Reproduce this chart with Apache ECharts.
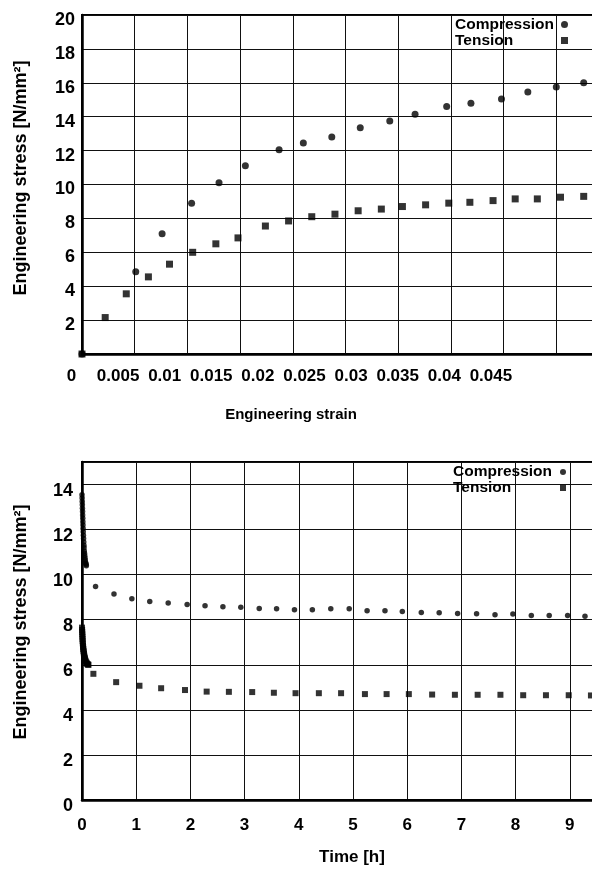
<!DOCTYPE html>
<html>
<head>
<meta charset="utf-8">
<script src="https://cdn.jsdelivr.net/npm/echarts@6/dist/echarts.min.js"></script>
<style>
  html, body { margin: 0; padding: 0; background: #fff; overflow: hidden; width: 592px; height: 871px; }
  #chart { width: 640px; height: 871px; }
</style>
</head>
<body>
<div id="chart"></div>
<script>
// Stress-strain curves (upper panel)
const strainCompression = [0, 0.0051, 0.0076, 0.0104, 0.013, 0.0155, 0.0187, 0.0210, 0.0237, 0.0264, 0.0292, 0.0316, 0.0346, 0.0369, 0.0398, 0.0423, 0.0450, 0.0476];
const stressCompression = [0, 4.85, 7.1, 8.9, 10.1, 11.1, 12.05, 12.45, 12.8, 13.35, 13.75, 14.15, 14.6, 14.8, 15.05, 15.45, 15.75, 16.0];
const strainTension = [0, 0.0022, 0.0042, 0.0063, 0.0083, 0.0105, 0.0127, 0.0148, 0.0174, 0.0196, 0.0218, 0.0240, 0.0262, 0.0284, 0.0304, 0.0326, 0.0348, 0.0368, 0.0390, 0.0411, 0.0432, 0.0454, 0.0476];
const stressTension = [0, 2.15, 3.55, 4.55, 5.3, 6.0, 6.5, 6.85, 7.55, 7.85, 8.1, 8.25, 8.45, 8.55, 8.7, 8.8, 8.9, 8.95, 9.05, 9.15, 9.15, 9.25, 9.3];

// Stress relaxation over time (lower panel); the first minutes are sampled densely
const timeCompression = [0, 0.002, 0.004, 0.006, 0.008, 0.01, 0.012, 0.014, 0.016, 0.018, 0.02, 0.023, 0.026, 0.029,
  0.032, 0.035, 0.038, 0.042, 0.046, 0.05, 0.055, 0.06, 0.065, 0.07, 0.075, 0.08,
  0.25, 0.59, 0.92, 1.25, 1.59, 1.94, 2.27, 2.6, 2.93, 3.27, 3.59, 3.92, 4.25, 4.59, 4.93, 5.26, 5.59, 5.91,
  6.26, 6.59, 6.93, 7.28, 7.62, 7.95, 8.29, 8.62, 8.96, 9.28];
const relaxCompression = [13.55, 13.4, 13.25, 13.1, 12.95, 12.8, 12.65, 12.5, 12.35, 12.2, 12.05, 11.9, 11.75, 11.6,
  11.45, 11.3, 11.2, 11.05, 10.95, 10.85, 10.75, 10.65, 10.55, 10.5, 10.45, 10.4,
  9.48, 9.14, 8.93, 8.81, 8.74, 8.68, 8.62, 8.58, 8.55, 8.5, 8.49, 8.44, 8.44, 8.49, 8.49, 8.4, 8.4, 8.36,
  8.32, 8.31, 8.28, 8.27, 8.22, 8.25, 8.19, 8.19, 8.19, 8.15];
const timeTension = [0, 0.002, 0.004, 0.006, 0.008, 0.01, 0.012, 0.015, 0.018, 0.021, 0.024, 0.028, 0.032,
  0.036, 0.04, 0.045, 0.05, 0.055, 0.06, 0.07, 0.08, 0.09, 0.1, 0.11, 0.12,
  0.21, 0.63, 1.06, 1.46, 1.9, 2.3, 2.71, 3.14, 3.54, 3.94, 4.37, 4.78, 5.22, 5.62, 6.03, 6.46, 6.88,
  7.3, 7.72, 8.14, 8.56, 8.98, 9.39];
const relaxTension = [7.65, 7.55, 7.45, 7.35, 7.25, 7.15, 7.05, 6.95, 6.85, 6.78, 6.7, 6.62, 6.55,
  6.48, 6.42, 6.36, 6.3, 6.25, 6.2, 6.15, 6.1, 6.06, 6.03, 6.01, 6.0,
  5.6, 5.23, 5.07, 4.96, 4.88, 4.81, 4.8, 4.79, 4.76, 4.74, 4.74, 4.74, 4.7, 4.7, 4.7, 4.68, 4.67,
  4.67, 4.67, 4.65, 4.65, 4.65, 4.64];

const seriesNames = ['Compression', 'Tension'];
const strainRange = [0, 0.05], strainStep = 0.005;
const stressRange = [0, 20], stressStep = 2;
const timeRange = [0, 10], timeStep = 1;
const relaxRange = [0, 15], relaxStep = 2;

const pairs = (xs, ys) => xs.map((x, i) => [x, ys[i]]);

const FONT = '"Liberation Sans", Arial, Helvetica, sans-serif';
const INK = '#000';
const gridLine = { show: true, lineStyle: { color: '#111', width: 1 } };
const frameLine = { show: true, onZero: false, lineStyle: { color: INK, width: 2.5 } };
const tickFont = size => ({ fontSize: size, fontWeight: 'bold', color: INK, fontFamily: FONT });

// Legend entries keep their text left-aligned in a fixed-width box so the markers line up
const legendBlock = (left, top, lineHeight, boxWidth, marker) => ({
  orient: 'vertical', left, top, align: 'right', padding: 0,
  itemWidth: marker, itemHeight: marker, itemGap: 0, selectedMode: false,
  formatter: name => '{t|' + name + '}',
  textStyle: { color: INK, fontFamily: FONT,
    rich: { t: { width: boxWidth, align: 'left', fontSize: 15.5, fontWeight: 'bold', lineHeight, color: INK, fontFamily: FONT } } },
  data: [{ name: seriesNames[0], icon: 'circle' }, { name: seriesNames[1], icon: 'rect' }]
});

const chart = echarts.init(document.getElementById('chart'), null, { renderer: 'canvas' });

chart.setOption({
  animation: false,
  backgroundColor: '#fff',
  textStyle: { fontFamily: FONT, color: INK },
  grid: [
    { left: 82, right: 31, top: 15, bottom: 517, show: true, borderColor: INK, borderWidth: 2, backgroundColor: 'transparent' },
    { left: 71.5, right: 102.5, top: 15, bottom: 517, show: false },
    { left: 82, right: 16, top: 462, bottom: 71, show: true, borderColor: INK, borderWidth: 2, backgroundColor: 'transparent' }
  ],
  xAxis: [
    { gridIndex: 0, type: 'value', min: strainRange[0], max: strainRange[1], interval: strainStep,
      axisLine: frameLine, axisTick: { show: false }, axisLabel: { show: false }, splitLine: gridLine },
    { gridIndex: 1, type: 'value', min: strainRange[0], max: strainRange[1], interval: strainStep,
      axisLine: { show: false }, axisTick: { show: false }, splitLine: { show: false },
      axisLabel: Object.assign({ margin: 14,
        formatter: v => (v >= strainRange[1] - 1e-9 ? '' : String(v)) }, tickFont(17)) },
    { gridIndex: 2, type: 'value', min: timeRange[0], max: timeRange[1], interval: timeStep,
      axisLine: frameLine, axisTick: { show: false }, splitLine: gridLine,
      axisLabel: Object.assign({ margin: 17,
        formatter: v => (v >= timeRange[1] ? '' : String(v)) }, tickFont(17)) }
  ],
  yAxis: [
    { gridIndex: 0, type: 'value', min: stressRange[0], max: stressRange[1], interval: stressStep,
      axisLine: frameLine, axisTick: { show: false }, splitLine: gridLine,
      axisLabel: Object.assign({ margin: 7, verticalAlign: 'top', lineHeight: 10,
        formatter: v => (v === 0 ? '' : String(v)) }, tickFont(18)) },
    { gridIndex: 1, type: 'value', min: stressRange[0], max: stressRange[1], show: false },
    { gridIndex: 2, type: 'value', min: relaxRange[0], max: relaxRange[1], interval: relaxStep,
      axisLine: frameLine, axisTick: { show: false }, splitLine: gridLine,
      axisLabel: Object.assign({ margin: 9, verticalAlign: 'top', lineHeight: 13,
        formatter: v => (v > 14 ? '' : String(v)) }, tickFont(18)) }
  ],
  legend: [
    legendBlock(455, 16.5, 17, 101, 7),
    legendBlock(453, 464, 16, 102, 6)
  ],
  series: [
    { name: seriesNames[0], type: 'scatter', xAxisIndex: 0, yAxisIndex: 0, symbol: 'circle', symbolSize: 7,
      itemStyle: { color: INK }, data: pairs(strainCompression, stressCompression) },
    { name: seriesNames[1], type: 'scatter', xAxisIndex: 0, yAxisIndex: 0, symbol: 'rect', symbolSize: 7,
      itemStyle: { color: INK }, data: pairs(strainTension, stressTension) },
    { name: seriesNames[0], type: 'scatter', xAxisIndex: 2, yAxisIndex: 2, symbol: 'circle', symbolSize: 5.5,
      itemStyle: { color: INK }, data: pairs(timeCompression, relaxCompression) },
    { name: seriesNames[1], type: 'scatter', xAxisIndex: 2, yAxisIndex: 2, symbol: 'rect', symbolSize: 6,
      itemStyle: { color: INK }, data: pairs(timeTension, relaxTension) }
  ],
  graphic: [
    { type: 'text', x: 21, y: 178, rotation: Math.PI / 2,
      style: { text: 'Engineering stress [N/mm²]', font: 'bold 18px ' + FONT, fill: INK, textAlign: 'center', textVerticalAlign: 'middle' } },
    { type: 'text', x: 291, y: 415,
      style: { text: 'Engineering strain', font: 'bold 15px ' + FONT, fill: INK, textAlign: 'center', textVerticalAlign: 'middle' } },
    { type: 'text', x: 21, y: 622, rotation: Math.PI / 2,
      style: { text: 'Engineering stress [N/mm²]', font: 'bold 18px ' + FONT, fill: INK, textAlign: 'center', textVerticalAlign: 'middle' } },
    { type: 'text', x: 352, y: 857,
      style: { text: 'Time [h]', font: 'bold 17px ' + FONT, fill: INK, textAlign: 'center', textVerticalAlign: 'middle' } }
  ]
});
</script>
</body>
</html>
